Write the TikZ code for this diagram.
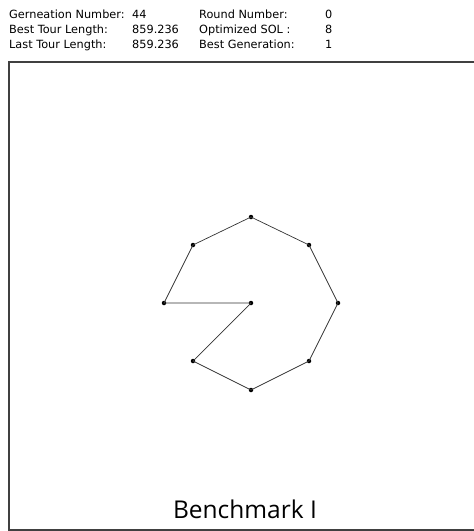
\documentclass[tikz,border=0pt]{standalone}
\usepackage{fontspec}
\setmainfont{DejaVu Sans}
\newfontfamily\bigfont{Open Sans}
\usetikzlibrary{positioning}

\begin{document}
\begin{tikzpicture}[x=1pt,y=-1pt,inner sep=0pt,
  info/.style={anchor=base west,font=\fontsize{11.3}{13}\selectfont},
  city/.style={circle,fill=black,minimum size=4.5pt,inner sep=0pt},
  tour/.style={draw=black!80,line width=0.7pt}]
\useasboundingbox (0,0) rectangle (474,531);
\draw[draw=black!75,line width=1.2pt] (9,62) rectangle (480,530);
% header
\node[info] (gen) at (9,18) {Gerneation Number:};
\node[info] (genv) at (132,18) {44};
\node[info] (best) at (9,33) {Best Tour Length:};
\node[info] (bestv) at (132,33) {859.236};
\node[info] (last) at (9,48) {Last Tour Length:};
\node[info] (lastv) at (132,48) {859.236};
\node[info] (round) at (199,18) {Round Number:};
\node[info] (roundv) at (325,18) {0};
\node[info] (opt) at (199,33) {Optimized SOL :};
\node[info] (optv) at (325,33) {8};
\node[info] (bgen) at (199,48) {Best Generation:};
\node[info] (bgenv) at (325,48) {1};
% cities
\node[city] (c0) at (251,303) {};
\node[city] (c1) at (164,303) {};
\node[city] (c2) at (193,245) {};
\node[city] (c3) at (251,217) {};
\node[city] (c4) at (309,245) {};
\node[city] (c5) at (338,303) {};
\node[city] (c6) at (309,361) {};
\node[city] (c7) at (251,390) {};
\node[city] (c8) at (193,361) {};
\draw[tour] (c0.center)--(c1.center)--(c2.center)--(c3.center)--(c4.center)--(c5.center)--(c6.center)--(c7.center)--(c8.center)--(c0.center);
\node[anchor=base,font=\bigfont\fontsize{24.5}{27}\selectfont] (bench) at (245,518) {Benchmark I};
\end{tikzpicture}
\end{document}
